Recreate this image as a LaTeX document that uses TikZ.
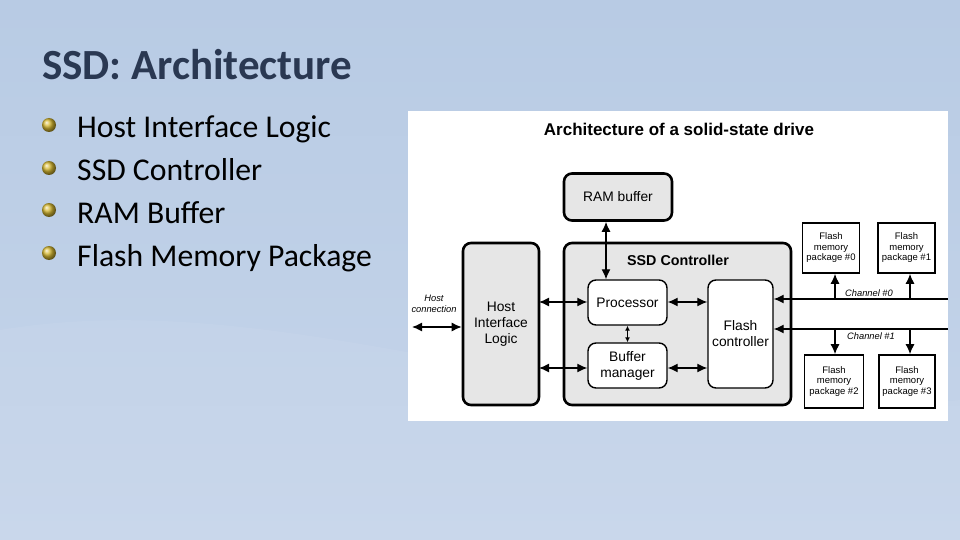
\documentclass[tikz,border=0pt]{standalone}
\usepackage{fontspec}
\setmainfont{Carlito}
\newfontfamily\arialf{Liberation Sans}
\usetikzlibrary{arrows.meta,shadows}
\definecolor{bgtop}{RGB}{184,203,228}
\definecolor{bgbot}{RGB}{198,213,234}
\definecolor{titlecol}{RGB}{42,56,82}
\definecolor{boxgray}{RGB}{230,230,230}
\definecolor{gold}{RGB}{215,185,50}
\tikzset{
  outerbox/.style={draw=black, line width=2.6pt, rounded corners=8pt, fill=boxgray, inner sep=0pt},
  innerbox/.style={draw=black, line width=1.4pt, rounded corners=8pt, fill=white, inner sep=0pt},
  pkgbox/.style={draw=black, line width=1.6pt, fill=white, inner sep=0pt, align=center,
    font=\arialf\fontsize{9.5}{10.5}\selectfont},
  boxtext/.style={font=\arialf\fontsize{13.8}{16}\selectfont, align=center},
  dbl/.style={line width=1.3pt, {Latex[length=10pt,width=9pt]}-{Latex[length=10pt,width=9pt]}},
  sgl/.style={line width=1.3pt, -{Latex[length=10pt,width=9pt]}},
  small/.style={font=\arialf\itshape\fontsize{9.3}{11}\selectfont, inner sep=0pt, align=center},
  bullettext/.style={anchor=base west, inner sep=0pt, font=\fontsize{31.7}{36}\selectfont},
  bulletdot/.style={circle, minimum size=14pt, inner sep=0pt, shading=ball, ball color=gold}
}
\begin{document}
\begin{tikzpicture}[x=1pt,y=-1pt]
\useasboundingbox (0,0) rectangle (960,540);
\shade[top color=bgtop, bottom color=bgbot] (0,0) rectangle (960,540);
\fill[white, opacity=0.06] (0,330) .. controls (300,280) and (600,440) .. (960,400) -- (960,540) -- (0,540) -- cycle;
% title
\node[anchor=base west, inner sep=0pt, text=titlecol, font=\bfseries\fontsize{43}{48}\selectfont] (title) at (42,80) {SSD: Architecture};
% bullets
\node[bullettext] (b1) at (77,138) {Host Interface Logic};
\node[bullettext] (b2) at (77,181) {SSD Controller};
\node[bullettext] (b3) at (77,223) {RAM Buffer};
\node[bullettext] (b4) at (77,266) {Flash Memory Package};
\node[bulletdot] (d1) at (49,125) {};
\node[bulletdot] (d2) at (49,168) {};
\node[bulletdot] (d3) at (49,210) {};
\node[bulletdot] (d4) at (49,253) {};
% panel
\fill[white] (408,111) rectangle (948,421);
\node[font=\arialf\bfseries\fontsize{17}{20}\selectfont, inner sep=0pt] (ptitle) at (679,129) {Architecture of a solid-state drive};
% boxes
\node[outerbox, minimum width=108pt, minimum height=47pt, boxtext] (ram) at (618,197) {RAM buffer};
\node[outerbox, minimum width=76pt, minimum height=162pt, boxtext] (hil) at (501,324) {Host\\Interface\\Logic};
\node[outerbox, minimum width=227pt, minimum height=162pt] (ssd) at (677.5,324) {};
\node[font=\arialf\bfseries\fontsize{14.3}{16}\selectfont, inner sep=0pt] (ssdl) at (678,260) {SSD Controller};
\node[innerbox, minimum width=79pt, minimum height=45pt, boxtext] (proc) at (627.5,302.5) {Processor};
\node[innerbox, minimum width=79pt, minimum height=45pt, boxtext] (bm) at (627.5,365.5) {Buffer\\manager};
\node[innerbox, minimum width=65pt, minimum height=108pt, boxtext] (fc) at (740.5,334) {Flash\\controller};
% flash packages
\node[pkgbox, minimum width=57pt, minimum height=50pt] (p0) at (831,248) {Flash\\memory\\package \#0};
\node[pkgbox, minimum width=57pt, minimum height=50pt] (p1) at (906.5,248) {Flash\\memory\\package \#1};
\node[pkgbox, minimum width=59pt, minimum height=53pt] (p2) at (834,381.5) {Flash\\memory\\package \#2};
\node[pkgbox, minimum width=56pt, minimum height=53pt] (p3) at (907,381.5) {Flash\\memory\\package \#3};
% coordinates
\coordinate (hc) at (412,327);
\coordinate (rx) at (606,0);
\coordinate (ch0) at (948,299);
\coordinate (ch1) at (948,329);
\coordinate (a0) at (835,299);
\coordinate (a1) at (910,299);
\coordinate (a2) at (835,329);
\coordinate (a3) at (910,329);
\coordinate (hil1) at (539,302);
\coordinate (hil2) at (539,368);
% connectors
\draw[dbl] (hc) -- (hc -| hil.west);
\draw[dbl] (hil1) -- (hil1 -| proc.west);
\draw[dbl] (hil2) -- (hil2 -| bm.west);
\draw[dbl] (ram.south -| rx) -- (proc.north -| rx);
\draw[line width=1.2pt, {Latex[length=5pt,width=5pt]}-{Latex[length=5pt,width=5pt]}] (proc.south) -- (bm.north);
\draw[dbl] (proc.east |- hil1) -- (fc.west |- hil1);
\draw[dbl] (bm.east |- hil2) -- (fc.west |- hil2);
\draw[sgl] (ch0) -- (ch0 -| fc.east);
\draw[sgl] (ch1) -- (ch1 -| fc.east);
\draw[sgl] (a0) -- (a0 |- p0.south);
\draw[sgl] (a1) -- (a1 |- p1.south);
\draw[sgl] (a2) -- (a2 |- p2.north);
\draw[sgl] (a3) -- (a3 |- p3.north);
% labels
\node[small] (hcl) at (434,304) {Host\\connection};
\node[small] (c0l) at (869,293) {Channel \#0};
\node[small] (c1l) at (871,336) {Channel \#1};
\end{tikzpicture}
\end{document}
